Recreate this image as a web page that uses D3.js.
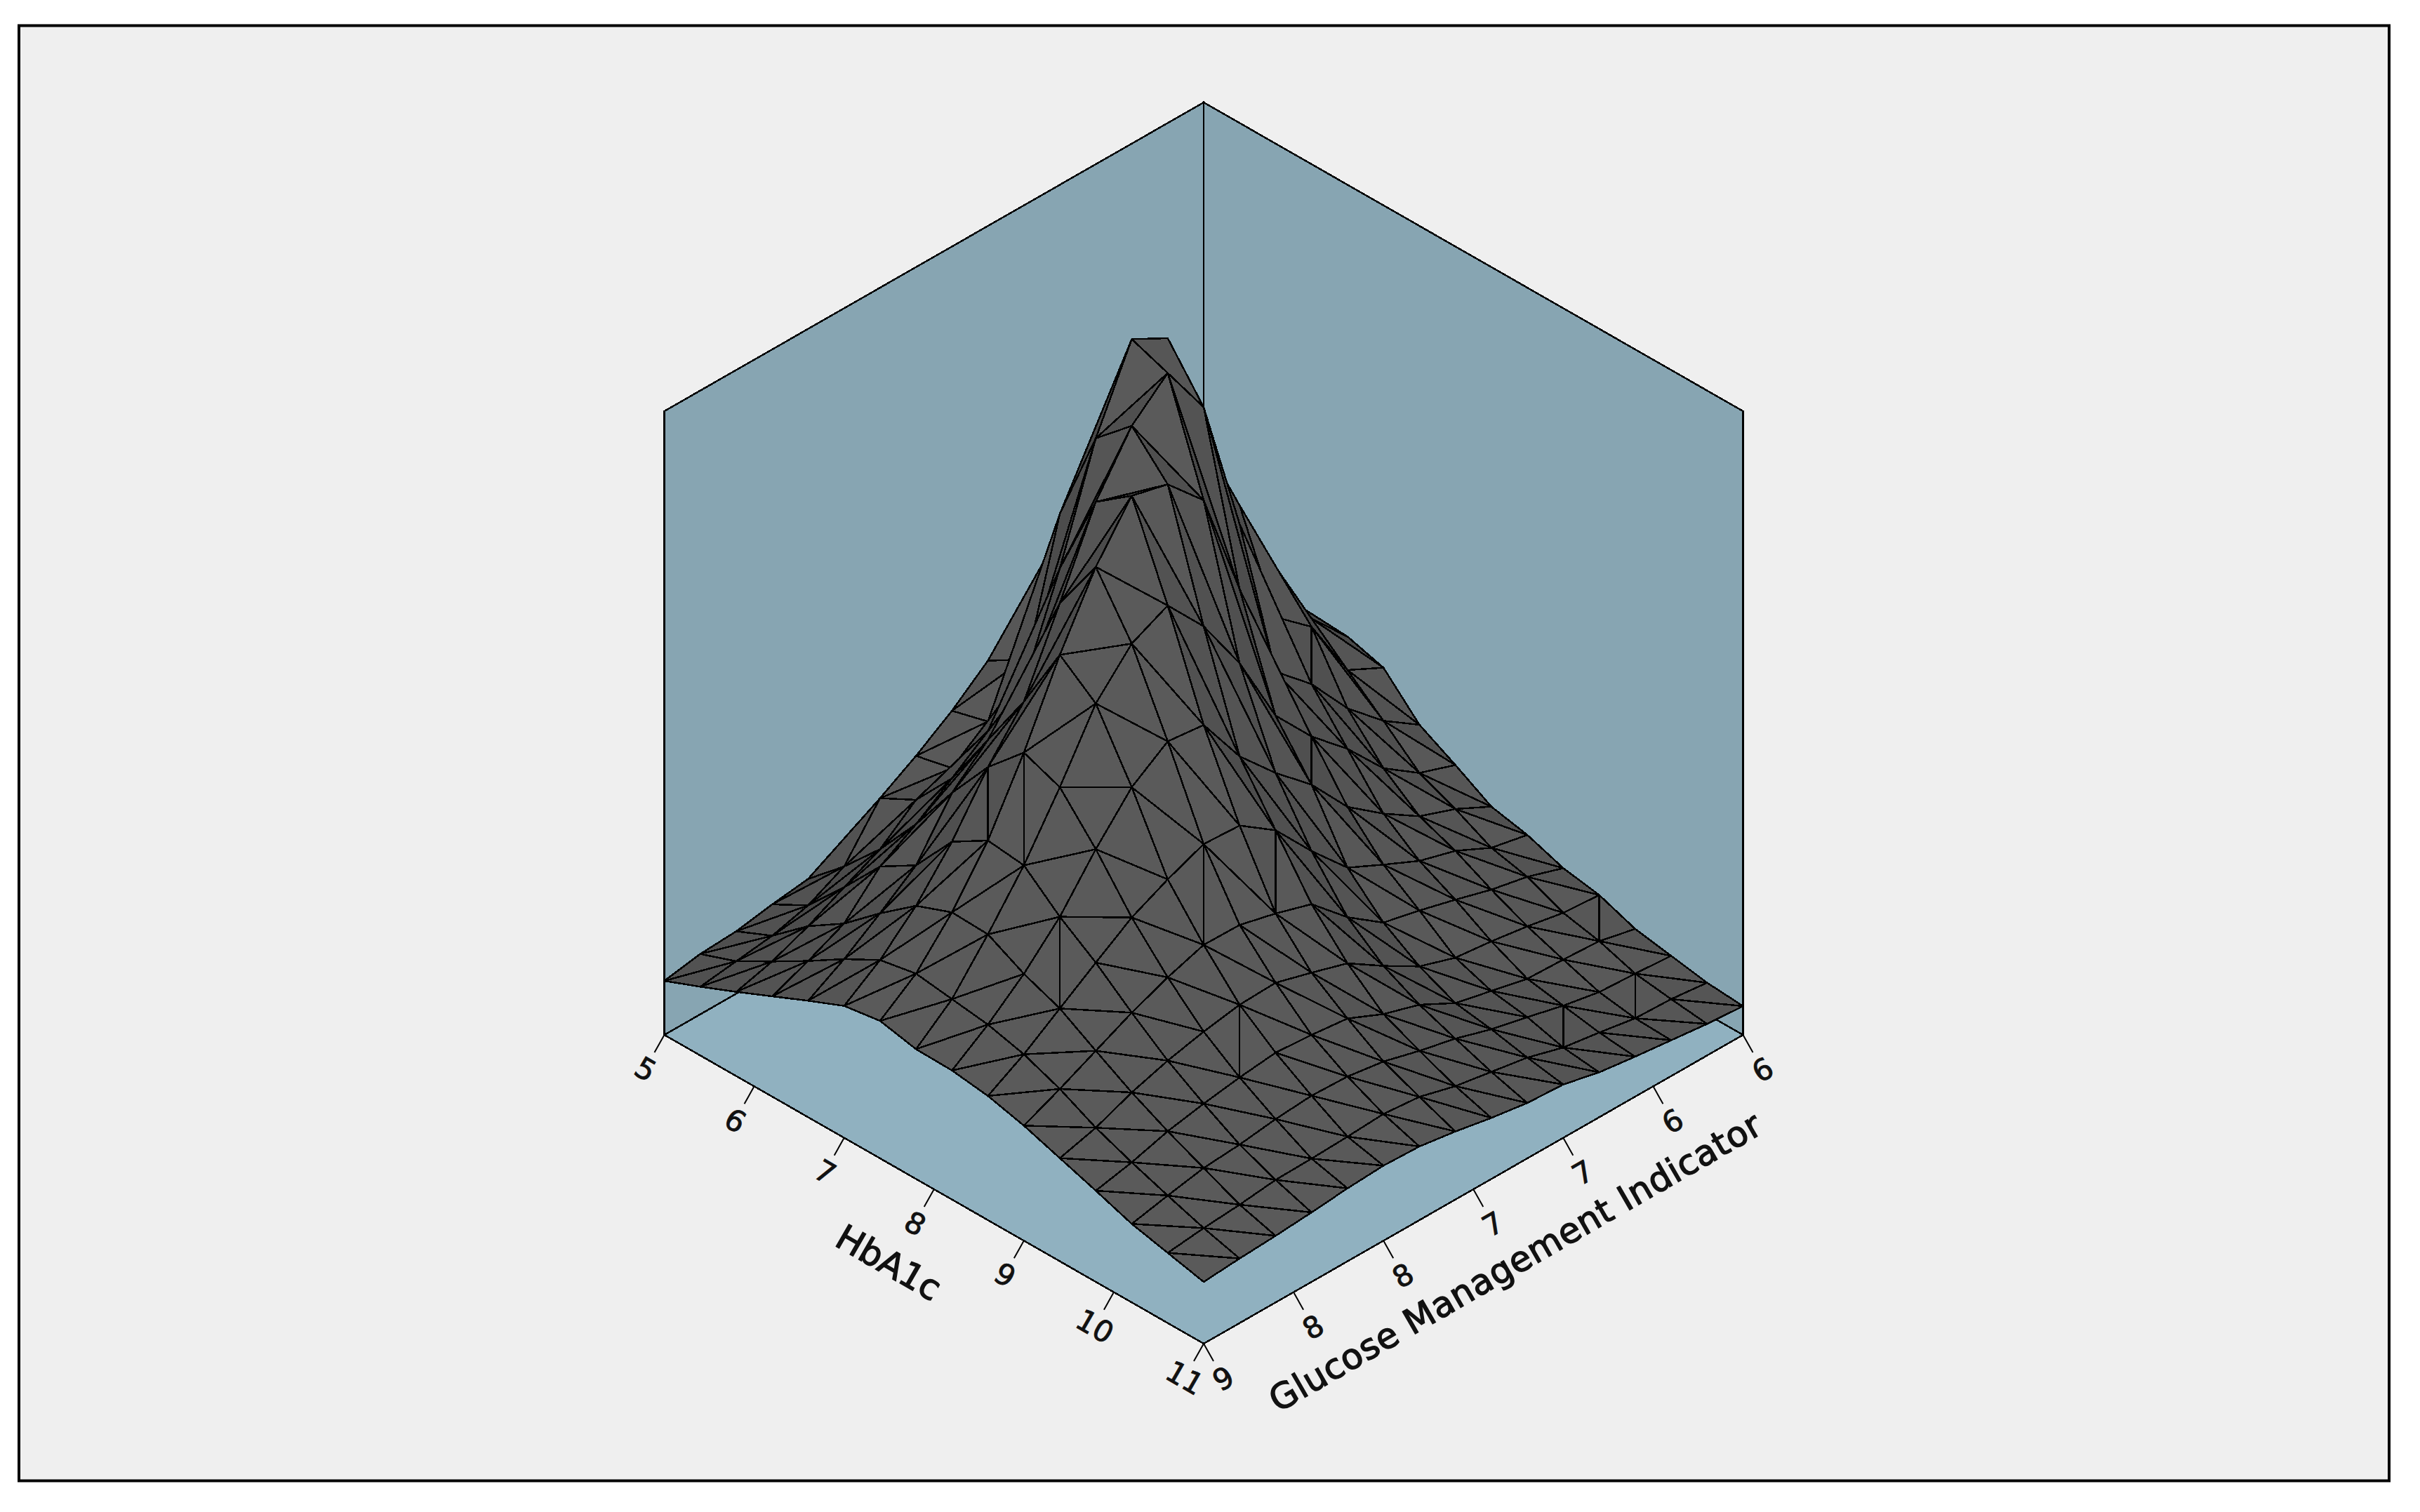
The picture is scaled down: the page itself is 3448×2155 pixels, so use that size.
<!DOCTYPE html>
<html><head><meta charset="utf-8">
<style>html,body{margin:0;padding:0;background:#fff}svg{display:block}</style>
<script src="https://cdnjs.cloudflare.com/ajax/libs/d3/7.8.5/d3.min.js"></script>
</head><body><svg id="c" width="3448" height="2155"></svg>
<script>
// Data
const hba1cGrid=[5,5.4,5.8,6.2,6.6,7,7.4,7.8,8.2,8.6,9,9.4,9.8,10.2,10.6,11];
const gmiGrid=[9,8.8,8.6,8.4,8.2,8,7.8,7.6,7.4,7.2,7,6.8,6.6,6.4,6.2,6];
// density (arbitrary units); one row per HbA1c value, one column per GMI value
const row00=[77,86,89,98,105,113,140,175,200,250,282,290,310,300,290,270];
const row01=[98,105,112,126,152,220,251,286,328,374,400,440,430,400,360,290];
const row02=[120,134,155,181,206,247,263,300,359,510,560,560,500,440,340,270];
const row03=[143,164,188,240,271,307,345,398,596,678,640,600,540,400,310,240];
const row04=[166,196,232,271,345,391,441,577,733,845,817,640,520,403,300,245];
const row05=[188,224,272,334,411,475,586,701,780,826,748,552,390,347,256,230];
const row06=[196,234,292,365,461,571,667,739,726,674,518,371,324,260,213,178];
const row07=[185,227,290,359,441,531,587,612,553,471,367,308,261,204,168,150];
const row08=[184,220,263,315,382,441,477,471,397,344,298,237,198,165,146,120];
const row09=[177,207,243,279,314,339,360,357,321,262,209,184,160,145,120,109];
const row10=[164,187,212,237,258,275,274,261,245,197,160,148,134,119,108,91];
const row11=[147,161,182,198,210,219,221,206,190,157,127,110,104,96,86,82];
const row12=[130,141,156,166,174,180,176,170,147,131,104,92,80,78,75,63];
const row13=[112,123,133,137,144,148,146,138,124,112,96,84,71,61,58,54];
const row14=[100,106,110,116,117,119,122,117,103,94,85,70,62,53,51,45];
const row15=[88,92,95,99,104,107,105,97,87,79,76,64,57,51,45,41];
const density=[row00,row01,row02,row03,row04,row05,row06,row07,row08,row09,row10,row11,row12,row13,row14,row15];
// grid cells whose triangulating diagonal runs the other way
const flippedCells=[[5,3],[6,3],[8,2],[9,5],[11,4],[9,7],[7,10],[5,12],[13,11],[11,14],[13,13]];
const hba1cTicks=[5,6,7,8,9,10,11];
const hba1cTickLabels=["5","6","7","8","9","10","11"];
const gmiTicks=[9,8.5,8,7.5,7,6.5,6];
const gmiTickLabels=["9","8","8","7","7","6","6"];

// Layout
const W=3448,H=2155;
const P={lx:946.5,cx:1715,rx:2483.5,floorMid:1475,halfDepth:440,wall:889};
const svg=d3.select("#c");
const uScale=d3.scaleLinear().domain([5,11]).range([0,1]);
const vScale=d3.scaleLinear().domain([9,6]).range([0,1]);
const zScale=d3.scaleLinear().domain([0,889]).range([0,P.wall]);
const half=P.cx-P.lx;
function proj(hb,gm,z){
  const u=uScale(hb),v=vScale(gm);
  return [P.lx+half*(u+v), P.floorMid+P.halfDepth*(u-v)-zScale(z)];
}
const line=d3.line();
const closed=pts=>line(pts)+"Z";

svg.append("rect").attr("x",0).attr("y",0).attr("width",W).attr("height",H).attr("fill","#fff");
svg.append("rect").attr("x",27).attr("y",36.5).attr("width",3377).attr("height",2074).attr("fill","#efefef").attr("stroke","#000").attr("stroke-width",4);

const g=svg.append("g").attr("shape-rendering","crispEdges");
const zTop=889;
const corners={L:proj(5,9,0),F:proj(11,9,0),R:proj(11,6,0),B:proj(5,6,0),LT:proj(5,9,zTop),RT:proj(11,6,zTop),BT:proj(5,6,zTop)};
g.append("path").attr("d",closed([corners.L,corners.LT,corners.BT,corners.B])).attr("fill","#87a5b2").attr("stroke","#000").attr("stroke-width",2.5);
g.append("path").attr("d",closed([corners.R,corners.RT,corners.BT,corners.B])).attr("fill","#87a5b2").attr("stroke","#000").attr("stroke-width",2.5);
g.append("path").attr("d",closed([corners.L,corners.B,corners.R,corners.F])).attr("fill","#90b1c0").attr("stroke","#000").attr("stroke-width",2.5);

// Surface triangles
const flipped=new Set(flippedCells.map(c=>c[0]+"_"+c[1]));
const tris=[];
for(let a=0;a<15;a++)for(let b=0;b<15;b++){
  const A=[a,b],B=[a+1,b],C=[a+1,b+1],D=[a,b+1];
  if(flipped.has(a+"_"+b)){tris.push([A,B,D],[C,B,D]);}
  else{tris.push([A,D,C],[A,B,C]);}
}
const vtx=t=>[hba1cGrid[t[0]],gmiGrid[t[1]],density[t[0]][t[1]]];
const depth=t=>d3.mean(t,p=>p[0]-p[1]);
tris.sort((p,q)=>depth(p)-depth(q));
const cell=72.5,zTrue=1/0.816;
function shade(t){
  const [p,q,r]=t;
  const P3=x=>[x[0]*cell,x[1]*cell,zScale(density[x[0]][x[1]])*zTrue];
  const a=P3(p),b=P3(q),c=P3(r);
  const e=[b[0]-a[0],b[1]-a[1],b[2]-a[2]],f=[c[0]-a[0],c[1]-a[1],c[2]-a[2]];
  let n=[e[1]*f[2]-e[2]*f[1],e[2]*f[0]-e[0]*f[2],e[0]*f[1]-e[1]*f[0]];
  const m=Math.hypot(...n);n=n.map(x=>x/m);if(n[2]<0)n=n.map(x=>-x);
  const dot=(n[0]-n[1]+n[2])/Math.sqrt(3);
  const c0=Math.round(68+30*Math.max(0,Math.min(0.72,dot)));
  return d3.rgb(c0,c0,c0).formatHex();
}
g.selectAll("path.tri").data(tris).join("path").attr("class","tri")
  .attr("d",t=>closed(t.map(x=>{const v=vtx(x);return proj(v[0],v[1],v[2]);})))
  .attr("fill",shade).attr("stroke","#000").attr("stroke-width",2.5).attr("stroke-linejoin","round");

// Ticks and labels
const font='"DejaVu Sans",sans-serif';
const t=svg.append("g").attr("font-family",font).attr("font-size",42).attr("fill","#111").attr("stroke","#111").attr("stroke-width",0.9);
hba1cTicks.forEach((v,i)=>{
  const p=proj(v,9,0);
  t.append("line").attr("x1",p[0]).attr("y1",p[1]).attr("x2",p[0]-14).attr("y2",p[1]+25).attr("stroke","#000").attr("stroke-width",2);
  t.append("text").attr("transform",`translate(${p[0]-27},${p[1]+49}) rotate(30)`).attr("text-anchor","middle").attr("dominant-baseline","central").text(hba1cTickLabels[i]);
});
gmiTicks.forEach((v,i)=>{
  const p=proj(11,v,0);
  t.append("line").attr("x1",p[0]).attr("y1",p[1]).attr("x2",p[0]+14).attr("y2",p[1]+25).attr("stroke","#000").attr("stroke-width",2);
  t.append("text").attr("transform",`translate(${p[0]+28},${p[1]+50}) rotate(-30)`).attr("text-anchor","middle").attr("dominant-baseline","central").text(gmiTickLabels[i]);
});
t.append("text").attr("transform","translate(1266,1800) rotate(30)").attr("text-anchor","middle").attr("dominant-baseline","central").attr("font-size",50).attr("stroke-width",1.4).text("HbA1c");
t.append("text").attr("transform","translate(2159,1799) rotate(-30)").attr("text-anchor","middle").attr("dominant-baseline","central").attr("font-size",50).attr("stroke-width",1.4).attr("textLength",800).attr("lengthAdjust","spacing").text("Glucose Management Indicator");
</script></body></html>
